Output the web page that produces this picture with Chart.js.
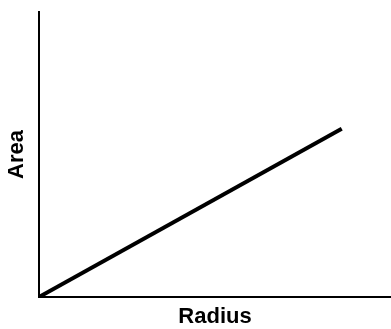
<!DOCTYPE html>
<html>
<head>
<meta charset="utf-8">
<script src="https://cdn.jsdelivr.net/npm/chart.js@4"></script>
<style>
html,body{margin:0;padding:0;background:#fff;}
#wrap{width:391px;height:329px;position:relative;}
</style>
</head>
<body>
<div id="wrap"><canvas id="c" width="391" height="329"></canvas></div>
<script>
const radius = [0, 8.6];
const area = [0, 5.9];
const xTitle = 'Radius';
const yTitle = 'Area';
const xMax = 10;
const yMax = 10;

const fontFamily = '"Liberation Sans", Arial, Helvetica, sans-serif';

new Chart(document.getElementById('c'), {
  type: 'line',
  data: {
    datasets: [{
      data: radius.map((r, i) => ({x: r, y: area[i]})),
      borderColor: '#000',
      borderWidth: 4,
      pointRadius: 0,
      tension: 0,
      fill: false
    }]
  },
  options: {
    responsive: false,
    animation: false,
    devicePixelRatio: 1,
    layout: {padding: {top: 12, right: 0, left: 0, bottom: 0}},
    plugins: {legend: {display: false}, tooltip: {enabled: false}},
    scales: {
      x: {
        type: 'linear', min: 0, max: xMax,
        grid: {display: false},
        ticks: {display: false},
        border: {display: true, color: '#000', width: 2},
        title: {display: true, text: xTitle, color: '#000',
          font: {family: fontFamily, size: 22, weight: 'bold', lineHeight: 1.1},
          padding: {top: 0, bottom: 0}},
        afterFit: s => { s.height = 32; }
      },
      y: {
        type: 'linear', min: 0, max: yMax,
        grid: {display: false},
        ticks: {display: false},
        border: {display: true, color: '#000', width: 2},
        title: {display: true, text: yTitle, color: '#000',
          font: {family: fontFamily, size: 22, weight: 'bold', lineHeight: 1.1},
          padding: {top: 5, bottom: 0}},
        afterFit: s => { s.width = 39; }
      }
    }
  }
});
</script>
</body>
</html>
